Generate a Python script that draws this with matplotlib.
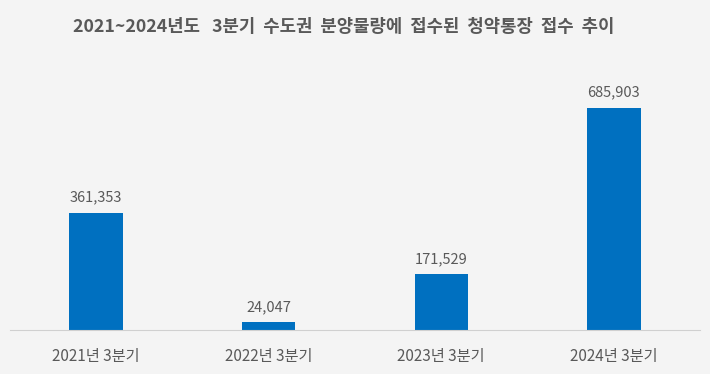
import matplotlib
matplotlib.use("Agg")
import matplotlib.pyplot as plt

plt.rcParams['font.family'] = ['Noto Sans CJK KR', 'DejaVu Sans']

categories = ["2021년 3분기", "2022년 3분기", "2023년 3분기", "2024년 3분기"]
values = [361353, 24047, 171529, 685903]

bg = "#f4f4f4"
txt = "#595959"

fig = plt.figure(figsize=(7.1, 3.74), dpi=100)
fig.patch.set_facecolor(bg)
ax = fig.add_axes([0.014, 0.1176, 0.972, 0.722])
ax.set_facecolor(bg)

x = range(len(categories))
bars = ax.bar(x, values, width=0.31, color="#0070c0")
ax.set_xlim(-0.5, len(categories) - 0.5)
ax.set_ylim(0, 834000)

for b, v in zip(bars, values):
    ax.annotate(f"{v:,}", (b.get_x() + b.get_width() / 2, v),
                xytext=(0, 6), textcoords="offset points",
                ha="center", va="bottom", fontsize=10.5, color=txt)

ax.set_xticks(list(x))
ax.set_xticklabels(categories, fontsize=11, color=txt)
ax.tick_params(axis="x", length=0, pad=13)
ax.set_yticks([])
for s in ["top", "left", "right"]:
    ax.spines[s].set_visible(False)
ax.spines["bottom"].set_color("#d0d0d0")

fig.text(0.484, 0.928, "2021~2024년도   3분기  수도권  분양물량에  접수된  청약통장  접수  추이",
         ha="center", va="center", fontsize=12.8, fontweight="bold", color=txt)

fig.savefig("out.png", dpi=100, facecolor=bg)
